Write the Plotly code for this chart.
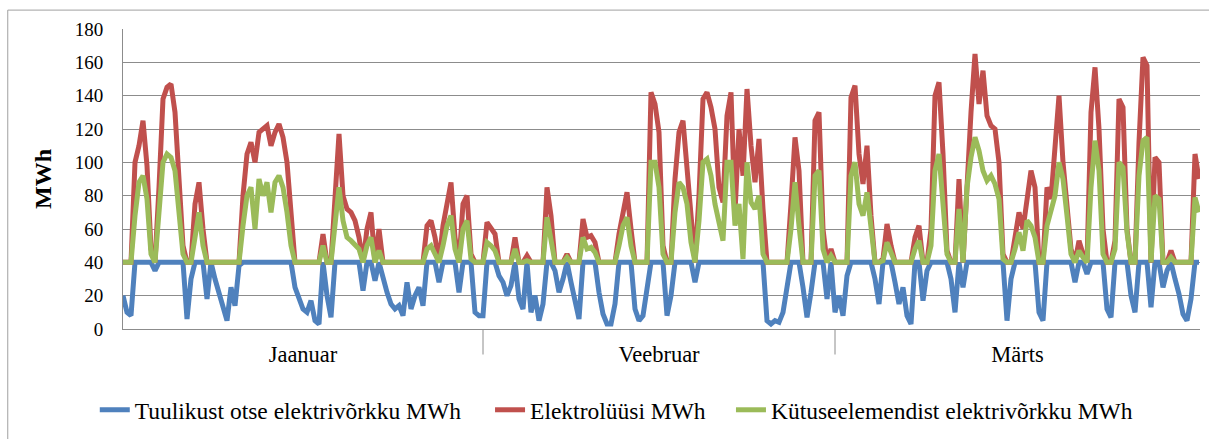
import plotly.graph_objects as go

# ---- data (sample index ~ 8 h steps, Jan-Mar) ----
months = ["Jaanuar", "Veebruar", "Märts"]
month_bounds = [0, 90, 178, 269.25]

blue = [
    20, 10, 8, 40, 40, 40, 40, 40, 35, 40,
    40, 40, 40, 40, 40, 40, 6, 30, 40, 40,
    40, 18, 40, 30, 22, 12, 5, 25, 14, 38,
    40, 40, 40, 40, 40, 40, 40, 40, 40, 40,
    40, 40, 40, 25, 18, 12, 10, 17, 5, 3,
    40, 20, 7, 40, 40, 40, 40, 40, 40, 40,
    23, 40, 40, 29, 40, 30, 22, 15, 12, 14,
    8, 28, 12, 20, 25, 14, 40, 40, 40, 28,
    40, 40, 40, 40, 22, 40, 40, 40, 10, 8,
    8, 40, 40, 40, 32, 28, 20, 26, 40, 18,
    12, 40, 10, 20, 5, 15, 40, 40, 35, 22,
    30, 40, 28, 15, 6, 40, 40, 40, 40, 22,
    9, 3, 3, 15, 40, 40, 40, 40, 12, 5,
    8, 22, 40, 40, 40, 40, 8, 20, 40, 40,
    40, 40, 40, 28, 40, 40, 40, 40, 40, 40,
    40, 40, 40, 40, 40, 40, 40, 40, 40, 40,
    40, 5, 3, 5, 4, 10, 25, 40, 40, 40,
    25, 7, 22, 40, 40, 40, 18, 40, 10, 20,
    8, 32, 40, 40, 40, 40, 40, 40, 30, 15,
    40, 40, 40, 28, 15, 25, 8, 3, 40, 40,
    17, 35, 40, 40, 40, 40, 40, 30, 10, 40,
    25, 40, 40, 40, 40, 40, 40, 40, 40, 40,
    40, 5, 30, 40, 40, 40, 40, 40, 40, 10,
    5, 40, 40, 40, 40, 40, 40, 40, 28, 40,
    40, 33, 40, 40, 40, 40, 12, 7, 40, 40,
    40, 40, 20, 10, 40, 40, 40, 13, 40, 40,
    25, 35, 40, 30, 21, 9, 5, 18, 40, 40,
]

red = [
    40, 40, 40, 100, 110, 125, 98, 48, 40, 85,
    138, 145, 147, 130, 92, 50, 40, 40, 75, 88,
    60, 40, 40, 40, 40, 40, 40, 40, 40, 40,
    80, 105, 112, 100, 118, 120, 122, 110, 118, 123,
    115, 100, 70, 40, 40, 40, 40, 40, 40, 40,
    57, 40, 40, 75, 117, 80, 72, 70, 65, 55,
    40, 60, 70, 40, 60, 40, 40, 40, 40, 40,
    40, 40, 40, 40, 40, 40, 62, 65, 55, 40,
    62, 75, 88, 55, 40, 75, 80, 45, 40, 40,
    40, 64, 60, 57, 40, 40, 40, 40, 55, 40,
    40, 44, 40, 40, 40, 40, 85, 68, 40, 40,
    40, 45, 40, 40, 40, 66, 55, 56, 52, 40,
    40, 40, 40, 40, 57, 70, 82, 60, 40, 40,
    40, 40, 142, 135, 118, 50, 40, 40, 90, 118,
    125, 95, 68, 40, 80, 138, 142, 133, 120, 85,
    76, 128, 142, 70, 120, 92, 144, 110, 88, 114,
    72, 40, 40, 40, 40, 40, 40, 75, 115, 95,
    40, 40, 40, 125, 130, 60, 40, 48, 40, 40,
    40, 40, 139, 146, 105, 87, 110, 68, 40, 40,
    42, 63, 50, 40, 40, 40, 40, 40, 55, 62,
    40, 40, 60, 140, 148, 105, 47, 40, 40, 90,
    40, 93, 130, 165, 135, 155, 128, 122, 120, 100,
    45, 40, 40, 55, 70, 60, 78, 95, 85, 40,
    40, 85, 78, 108, 140, 100, 72, 48, 40, 53,
    45, 40, 130, 157, 120, 60, 40, 40, 53, 138,
    133, 60, 40, 40, 112, 163, 158, 40, 103, 100,
    40, 40, 47, 40, 40, 40, 40, 40, 105, 90,
]

green = [
    40, 40, 40, 68, 88, 92, 78, 45, 40, 70,
    100, 105, 103, 95, 68, 45, 40, 40, 55, 70,
    50, 40, 40, 40, 40, 40, 40, 40, 40, 40,
    62, 80, 85, 60, 90, 80, 88, 70, 88, 92,
    85, 70, 50, 40, 40, 40, 40, 40, 40, 40,
    50, 40, 40, 60, 85, 65, 55, 53, 50, 48,
    40, 50, 55, 40, 47, 40, 40, 40, 40, 40,
    40, 40, 40, 40, 40, 40, 48, 50, 45, 40,
    50, 62, 68, 48, 40, 60, 65, 42, 40, 40,
    40, 52, 50, 47, 40, 40, 40, 40, 48, 40,
    40, 41, 40, 40, 40, 40, 67, 55, 40, 40,
    40, 43, 40, 40, 40, 55, 48, 49, 46, 40,
    40, 40, 40, 40, 50, 62, 67, 50, 40, 40,
    40, 40, 100, 100, 85, 45, 40, 40, 70, 88,
    85, 75, 52, 40, 65, 100, 102, 92, 75, 62,
    53, 100, 100, 62, 75, 42, 100, 76, 72, 80,
    45, 40, 40, 40, 40, 40, 40, 60, 88, 62,
    40, 40, 40, 92, 95, 48, 40, 44, 40, 40,
    40, 40, 92, 100, 75, 68, 82, 58, 40, 40,
    41, 52, 45, 40, 40, 40, 40, 40, 48, 53,
    40, 40, 50, 95, 105, 78, 45, 40, 40, 72,
    40, 85, 103, 115, 107, 95, 89, 92, 87, 78,
    42, 40, 40, 48, 58, 47, 65, 62, 55, 40,
    40, 62, 72, 80, 100, 90, 68, 45, 40, 47,
    43, 40, 85, 113, 95, 45, 40, 40, 48, 100,
    97, 58, 40, 40, 92, 113, 115, 40, 80, 78,
    40, 40, 43, 40, 40, 40, 40, 40, 79, 70,
]

series_names = [
    "Tuulikust otse elektrivõrkku MWh",
    "Elektrolüüsi MWh",
    "Kütuseelemendist elektrivõrkku MWh",
]
y_ticks = [0, 20, 40, 60, 80, 100, 120, 140, 160, 180]

# ---- figure ----
x = list(range(len(blue)))
colors = ["#4F81BD", "#C0504D", "#9BBB59"]
FONT = "Liberation Serif"
GRID = "#8c8c8c"
legend_ids = ["legend", "legend2", "legend3"]
legend_x = [-0.0262, 0.3408, 0.5645]

fig = go.Figure()
for name, ys, col, lg in zip(series_names, [blue, red, green], colors, legend_ids):
    fig.add_trace(go.Scatter(x=x, y=ys, mode="lines", name=name, legend=lg,
                             line=dict(color=col, width=5)))

mids = [(month_bounds[k] + month_bounds[k + 1]) / 2 for k in range(len(months))]

legend_style = dict(orientation="h", xanchor="left", y=-0.27, yanchor="middle",
                    font=dict(family=FONT, size=23.5, color="black"),
                    itemwidth=30, bgcolor="rgba(0,0,0,0)")

fig.update_layout(
    width=1209, height=439,
    margin=dict(l=123, r=9, t=29, b=110, autoexpand=False),
    paper_bgcolor="white", plot_bgcolor="white",
    font=dict(family=FONT, color="black"),
    showlegend=True,
    legend=dict(x=legend_x[0], **legend_style),
    legend2=dict(x=legend_x[1], **legend_style),
    legend3=dict(x=legend_x[2], **legend_style),
    xaxis=dict(range=[month_bounds[0], month_bounds[-1]], showgrid=False, zeroline=False,
               showline=True, linecolor=GRID, linewidth=1, automargin=False,
               tickmode="array", tickvals=mids, ticktext=months, ticks="",
               tickfont=dict(family=FONT, size=22.5, color="black"),
               ticklabelstandoff=5),
    yaxis=dict(range=[0, 180], tickmode="array", tickvals=y_ticks, showgrid=True,
               gridcolor=GRID, gridwidth=1, zeroline=False, automargin=False,
               showline=True, linecolor=GRID, linewidth=1, ticks="",
               tickfont=dict(family=FONT, size=19, color="black"),
               ticklabelstandoff=15,
               title=dict(text="<b>MWh</b>", font=dict(family=FONT, size=24, color="black"),
                          standoff=16)),
)

# month divider ticks
for b in month_bounds[1:-1]:
    fig.add_shape(type="line", xref="x", yref="paper", x0=b, x1=b, y0=0, y1=-0.085,
                  line=dict(color=GRID, width=1))

# chart outer border
fig.add_shape(type="rect", xref="paper", yref="paper",
              x0=-0.107, x1=1.02, y0=-0.40, y1=1.063,
              line=dict(color="#a0a0a0", width=1), fillcolor="rgba(0,0,0,0)", layer="below")

fig.write_html("out.html", config={"displayModeBar": False},
               post_script="document.body.style.margin='0px';")
